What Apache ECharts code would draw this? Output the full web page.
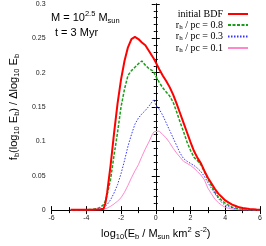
<!DOCTYPE html>
<html><head><meta charset="utf-8">
<script src="https://cdn.jsdelivr.net/npm/echarts@6/dist/echarts.min.js"></script>
<style>html,body{margin:0;padding:0;background:#fff}#c{width:266px;height:246px}</style>
</head><body><div id="c"></div>
<script>
const xVals = [-4.9,-4.5,-4.1,-3.7,-3.4,-3.2,-3.0,-2.9,-2.8,-2.6,-2.4,-2.2,-2.0,-1.8,-1.6,-1.4,-1.2,-1.0,-0.8,-0.6,-0.4,-0.2,-0.1,0,0.2,0.4,0.6,0.8,1.0,1.2,1.4,1.6,1.8,2.0,2.2,2.4,2.6,2.8,3.0,3.2,3.4,3.6,3.8,4.0,4.2,4.4,4.6,4.8,5.0,5.4,5.8,6.0];
const initialBDF = [0.0005,0.0005,0.0005,0.0005,0.0008,0.001,0.002,0.01,0.025,0.065,0.112,0.155,0.19,0.217,0.237,0.249,0.252,0.249,0.244,0.24,0.232,0.224,0.22,0.215,0.205,0.196,0.188,0.179,0.168,0.155,0.141,0.127,0.113,0.099,0.086,0.076,0.068,0.057,0.047,0.039,0.031,0.024,0.019,0.014,0.011,0.008,0.006,0.004,0.003,0.0015,0.0008,0.0005];
const rh08 = [0,0,0.0005,0.001,0.002,0.004,0.008,0.013,0.022,0.045,0.08,0.113,0.15,0.176,0.196,0.203,0.208,0.213,0.217,0.211,0.206,0.203,0.2,0.195,0.186,0.178,0.172,0.166,0.157,0.143,0.128,0.114,0.099,0.087,0.077,0.072,0.066,0.056,0.045,0.036,0.026,0.019,0.014,0.01,0.007,0.004,0.003,0.0015,0.001,0.0005,0,0];
const rh03 = [0,0,0,0.0005,0.001,0.002,0.003,0.005,0.008,0.015,0.025,0.037,0.053,0.072,0.093,0.11,0.125,0.134,0.14,0.145,0.151,0.158,0.161,0.153,0.147,0.138,0.127,0.116,0.105,0.094,0.083,0.075,0.071,0.068,0.065,0.061,0.056,0.049,0.04,0.032,0.024,0.017,0.011,0.007,0.005,0.003,0.0015,0.001,0.0005,0,0,0];
const rh01 = [0,0,0,0,0.0003,0.0005,0.001,0.002,0.003,0.0055,0.009,0.013,0.018,0.026,0.036,0.047,0.057,0.066,0.078,0.089,0.099,0.11,0.114,0.116,0.115,0.11,0.105,0.098,0.09,0.083,0.077,0.071,0.068,0.065,0.061,0.056,0.051,0.044,0.032,0.024,0.016,0.011,0.007,0.004,0.0025,0.0015,0.0008,0.0004,0,0,0,0];
const seriesNames = ['initial BDF','rh / pc = 0.8','rh / pc = 0.3','rh / pc = 0.1'];
const xTicks = [-6,-4,-2,0,2,4,6];
const yTicks = [0,0.05,0.1,0.15,0.2,0.25,0.3];

const pair = ys => xVals.map((x,i)=>[x,ys[i]]);
const SANS = 'Liberation Sans', SERIF = 'Liberation Serif';
const nameRich = {
  n:{fontFamily:SANS,fontSize:11,lineHeight:15,color:'#000',verticalAlign:'middle'},
  sub:{fontFamily:SANS,fontSize:7.5,lineHeight:9,color:'#000',verticalAlign:'bottom'},
  sup:{fontFamily:SANS,fontSize:7.5,lineHeight:9,color:'#000',verticalAlign:'top'}
};
const axisLabelStyle = {fontFamily:SANS,fontSize:7,color:'#222'};
const chart = echarts.init(document.getElementById('c'),null,{renderer:'canvas'});
const frameAxis = (extra)=>Object.assign({
  type:'value', axisLine:{show:true,lineStyle:{color:'#000',width:1}},
  splitLine:{show:false}, axisTick:{show:true,inside:true,length:4,lineStyle:{color:'#000'}},
  minorTick:{show:true,length:2,lineStyle:{color:'#000'}}
}, extra);
chart.setOption({
  animation:false,
  grid:{left:46,right:6,top:4,bottom:27,containLabel:false},
  xAxis:[
    frameAxis({min:-6,max:6,interval:2,minorTick:{show:true,splitNumber:2,length:3,lineStyle:{color:'#000'}},
      axisLabel:Object.assign({margin:4,formatter:v=>xTicks.includes(v)?String(v):''},axisLabelStyle),
      name:'{n|log}{sub|10}{n|(E}{sub|b}{n| / M}{sub|sun}{n| km}{sup|2}{n| s}{sup|-2}{n|)}',
      nameLocation:'middle',nameGap:14,nameTextStyle:{rich:nameRich}}),
    frameAxis({position:'top',min:-6,max:6,interval:2,minorTick:{show:true,splitNumber:2,length:3,lineStyle:{color:'#000'}},axisLabel:{show:false}})
  ],
  yAxis:[
    frameAxis({min:0,max:0.3,interval:0.05,minorTick:{show:true,splitNumber:5,length:2,lineStyle:{color:'#000'}},
      axisLabel:Object.assign({margin:6,formatter:v=>{const t=yTicks.find(k=>Math.abs(k-v)<1e-9);return t===undefined?'':String(t);}},axisLabelStyle),
      name:'{n|f}{sub|b}{n|(log}{sub|10}{n| E}{sub|b}{n|) / Δlog}{sub|10}{n| E}{sub|b}',
      nameLocation:'middle',nameGap:28,nameRotate:90,nameTextStyle:{rich:nameRich}}),
    frameAxis({position:'right',min:0,max:0.3,interval:0.05,minorTick:{show:true,splitNumber:5,length:2,lineStyle:{color:'#000'}},axisLabel:{show:false}})
  ],
  legend:{
    orient:'vertical',align:'right',right:17,top:9,padding:0,itemWidth:20,itemHeight:8,itemGap:1,
    itemStyle:{opacity:0},
    data:seriesNames,
    formatter:name=>name.charAt(0)==='r'?'{a|r}{b|h}{a|'+name.slice(2)+'}':'{a|'+name+'}',
    textStyle:{color:'#000',rich:{
      a:{fontFamily:SERIF,fontSize:10,lineHeight:11,color:'#000',verticalAlign:'middle'},
      b:{fontFamily:SERIF,fontSize:7,lineHeight:8,color:'#000',verticalAlign:'bottom'}
    }}
  },
  graphic:[
    {type:'text',left:51,top:10,style:{
      text:'{n|M = 10}{sup|2.5}{n| M}{sub|sun}',
      rich:{n:{fontFamily:SANS,fontSize:11,lineHeight:15,fill:'#000',verticalAlign:'middle'},
            sup:{fontFamily:SANS,fontSize:7.5,lineHeight:9,fill:'#000',verticalAlign:'top'},
            sub:{fontFamily:SANS,fontSize:7.5,lineHeight:9,fill:'#000',verticalAlign:'bottom'}}}},
    {type:'text',left:55,top:27,style:{text:'t = 3 Myr',font:'11px "Liberation Sans"',fill:'#000'}}
  ],
  series:[
    {name:seriesNames[1],type:'line',data:pair(rh08),symbol:'none',z:3,lineStyle:{color:'#1a9e1a',width:1.5,type:[3,1.5]},itemStyle:{color:'#1a9e1a'}},
    {name:seriesNames[2],type:'line',data:pair(rh03),symbol:'none',z:3,lineStyle:{color:'#3535ff',width:1,type:[1.5,1.5]},itemStyle:{color:'#3535ff'}},
    {name:seriesNames[3],type:'line',data:pair(rh01),symbol:'none',z:3,lineStyle:{color:'#ff88cc',width:1,type:'solid'},itemStyle:{color:'#ff88cc'}},
    {name:seriesNames[0],type:'line',data:pair(initialBDF),symbol:'none',z:4,lineStyle:{color:'#ff0000',width:2},itemStyle:{color:'#ff0000'}}
  ]
});
</script></body></html>
